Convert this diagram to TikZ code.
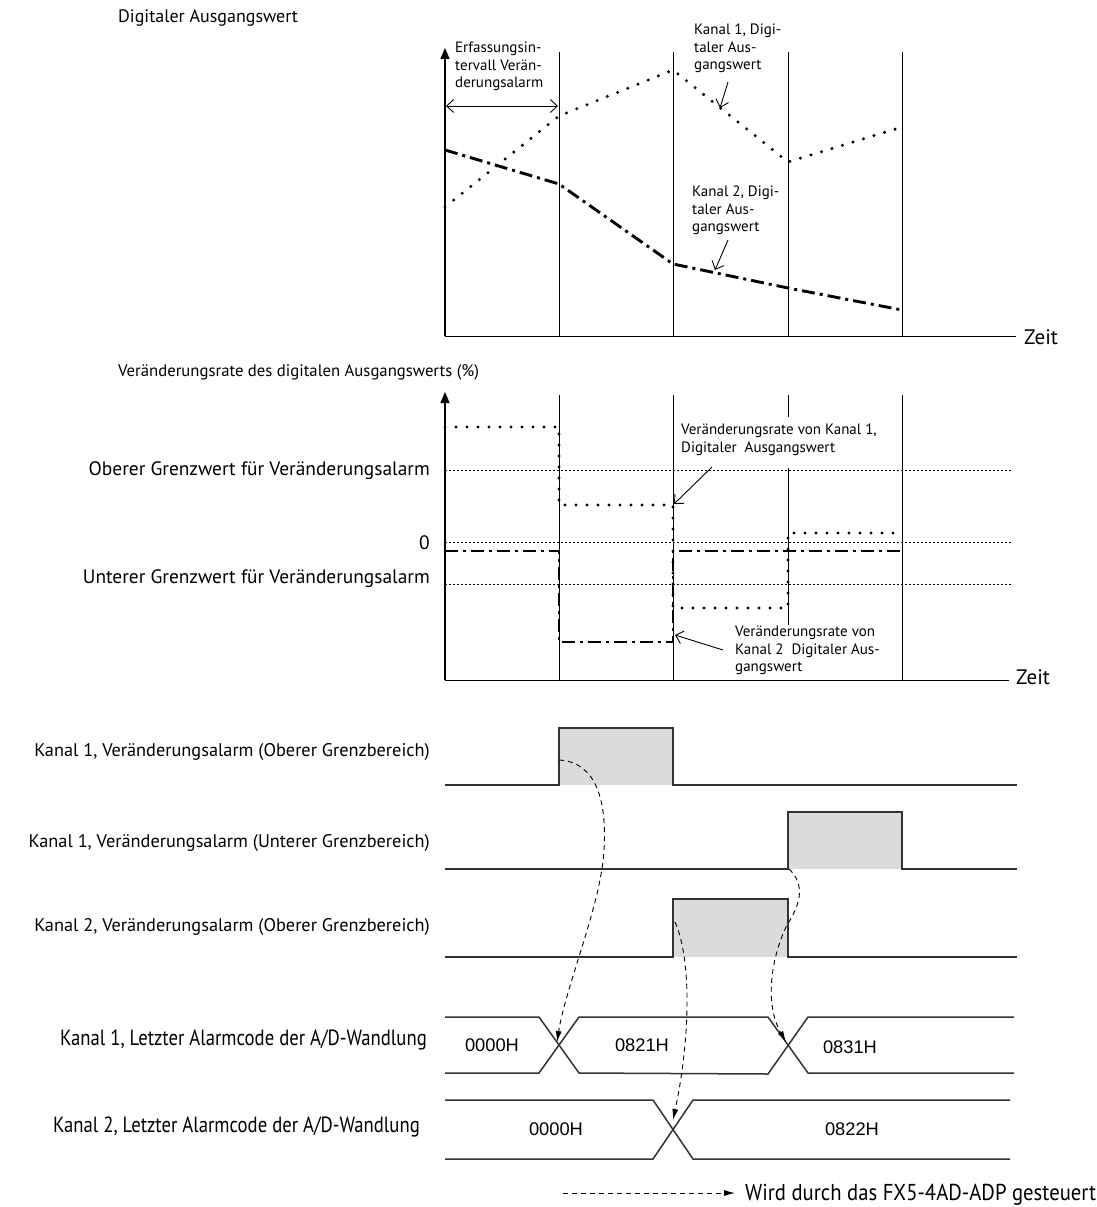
\documentclass[tikz,border=0pt]{standalone}
\usepackage{fontspec}
\setmainfont{PT Sans}
\newfontfamily\narrowfont[FakeStretch=0.85]{PT Sans}
\newfontfamily\legendfont[FakeStretch=0.9]{PT Sans}
\newfontfamily\codefont{Liberation Sans}
\usetikzlibrary{arrows.meta}
\tikzset{>=stealth}
\colorlet{pulseFill}{black!14}
\colorlet{sigColor}{black!80}
\tikzset{
  chone/.style={line width=3.3pt,line cap=round,dash pattern=on 0pt off 11pt},
  chtwo/.style={line width=2.9pt,dash pattern=on 13pt off 5pt on 3pt off 5pt},
  limitline/.style={line width=0.6pt,dash pattern=on 2pt off 2pt},
  gridline/.style={line width=1pt},
  axis/.style={line width=1.2pt,-{Triangle[length=11pt,width=9pt]}},
  sig/.style={line width=1.5pt,sigColor},
  ctrl/.style={line width=0.9pt,dash pattern=on 5pt off 4pt,-{Latex[length=11pt,width=6pt]}},
  pointer/.style={line width=0.9pt,-{Straight Barb[length=7pt,width=13pt]}},
  title/.style={font=\fontsize{18}{21}\selectfont,anchor=west,inner sep=0pt},
  zeit/.style={font=\fontsize{21}{24}\selectfont,anchor=west,inner sep=0pt},
  limitlabel/.style={font=\fontsize{19.4}{22}\selectfont,anchor=east,inner sep=0pt},
  rowlabel/.style={font=\fontsize{18.3}{21}\selectfont,anchor=east,inner sep=0pt},
  codelabel/.style={font=\narrowfont\fontsize{22}{24}\selectfont,anchor=east,inner sep=0pt},
  codeval/.style={font=\codefont\fontsize{18.3}{20}\selectfont,inner sep=0pt},
  note/.style={font=\fontsize{15}{17.5}\selectfont,align=left,anchor=north west,inner sep=0pt},
}

\begin{document}
\begin{tikzpicture}[x=1pt,y=-1pt]
  \useasboundingbox[fill=white] (0,0) rectangle (1097,1207);

  % digital output value
  \node[title] (ttlA) at (118,18) {Digitaler Ausgangswert};
  \draw[axis] (445,336) -- (445,48);
  \draw[gridline] (445,336) -- (1016,336);
  \node[zeit] (zeitA) at (1024,337) {Zeit};
  \foreach \t in {559,673,788,902}
    \draw[gridline] (\t,52) -- (\t,336);

  \draw[chone] (445,207) -- (559,116) -- (673,70) -- (788,162) -- (902,127);
  \draw[chtwo] (445,150) -- (559,184) -- (673,264) -- (788,288) -- (902,310);

  \node[note] (interval) at (455,42) {Erfassungsin-\\tervall Ver\"an-\\derungsalarm};
  \coordinate (intL) at (446,106);
  \coordinate (intR) at (558,106);
  \draw[pointer,{Straight Barb[length=7pt,width=13pt]}-{Straight Barb[length=7pt,width=13pt]}] (intL) -- (intR);

  \node[note] (chA) at (694,24) {Kanal 1, Digi-\\taler Aus-\\gangswert};
  \coordinate (chAtip) at (720,108);
  \draw[pointer] (728,82) -- (chAtip);
  \node[note] (chB) at (692,186) {Kanal 2, Digi-\\taler Aus-\\gangswert};
  \coordinate (chBtip) at (715,270);
  \draw[pointer] (728,240) -- (chBtip);

  % rate of change
  \node[title,font=\fontsize{16.7}{20}\selectfont] (ttlB) at (118,372) {Ver\"anderungsrate des digitalen Ausgangswerts (\%)};
  \draw[axis] (445,680) -- (445,392);
  \draw[gridline] (445,680) -- (1009,680);
  \node[zeit] (zeitB) at (1016,677) {Zeit};
  \foreach \t in {559,673,902}
    \draw[gridline] (\t,395) -- (\t,680);
  \draw[gridline] (788,395) -- (788,417);
  \draw[gridline] (788,468) -- (788,625);

  \draw[limitline] (445,470) -- (1012,470);
  \draw[limitline] (445,542) -- (1012,542);
  \draw[limitline] (445,584) -- (1012,584);
  \node[limitlabel] (upper) at (430,471) {Oberer Grenzwert f\"ur Ver\"anderungsalarm};
  \node[limitlabel] (zero) at (430,543) {0};
  \node[limitlabel] (lower) at (430,579) {Unterer Grenzwert f\"ur Ver\"anderungsalarm};

  \draw[chone] (445,427) -- (559,427) -- (559,505) -- (673,505) -- (673,608)
    -- (788,608) -- (788,533) -- (902,533);
  \draw[chtwo] (445,551) -- (559,551) -- (559,642) -- (673,642) -- (673,551) -- (902,551);

  \node[note] (rateA) at (681,424) {Ver\"anderungsrate von Kanal 1,\\Digitaler\ \ Ausgangswert};
  \coordinate (rateAtip) at (674,504);
  \draw[pointer] (712,467) -- (rateAtip);
  \node[note] (rateB) at (735,626) {Ver\"anderungsrate von\\Kanal 2\ \ Digitaler Aus-\\gangswert};
  \coordinate (rateBtip) at (675,635);
  \draw[pointer] (723,650) -- (rateBtip);

  % alarm signals
  \fill[pulseFill] (559,728) rectangle (673,785);
  \fill[pulseFill] (788,812) rectangle (902,869);
  \fill[pulseFill] (673,899) rectangle (788,957);
  \draw[sig] (445,785) -- (559,785) -- (559,728) -- (673,728) -- (673,785) -- (1017,785);
  \draw[sig] (445,869) -- (788,869) -- (788,812) -- (902,812) -- (902,869) -- (1017,869);
  \draw[sig] (445,957) -- (673,957) -- (673,899) -- (788,899) -- (788,957) -- (1017,957);
  \node[rowlabel] (almA) at (430,752) {Kanal 1, Ver\"anderungsalarm (Oberer Grenzbereich)};
  \node[rowlabel] (almB) at (430,843) {Kanal 1, Ver\"anderungsalarm (Unterer Grenzbereich)};
  \node[rowlabel] (almC) at (430,927) {Kanal 2, Ver\"anderungsalarm (Oberer Grenzbereich)};

  % alarm codes
  \draw[sig] (445,1017) -- (539,1017) -- (579,1073) -- (768,1074) -- (808,1017) -- (1014,1017);
  \draw[sig] (445,1073) -- (539,1073) -- (579,1017) -- (768,1017) -- (808,1073) -- (1014,1073);
  \draw[sig] (445,1100) -- (653,1100) -- (693,1159) -- (1010,1159);
  \draw[sig] (445,1159) -- (653,1159) -- (693,1100) -- (1010,1100);
  \node[codelabel] (codeA) at (427,1040) {Kanal 1, Letzter Alarmcode der A/D-Wandlung};
  \node[codelabel] (codeB) at (420,1127) {Kanal 2, Letzter Alarmcode der A/D-Wandlung};
  \node[codeval] (vA1) at (492,1045) {0000H};
  \node[codeval] (vA2) at (642,1045) {0821H};
  \node[codeval] (vA3) at (850,1047) {0831H};
  \node[codeval] (vB1) at (556,1129) {0000H};
  \node[codeval] (vB2) at (852,1129) {0822H};

  \coordinate (riseA) at (559,760);
  \coordinate (riseB) at (789,869);
  \coordinate (riseC) at (675,922);
  \coordinate (crossA) at (557,1042);
  \coordinate (crossB) at (786,1042);
  \coordinate (crossC) at (673,1120);
  \draw[ctrl] (riseA) .. controls (596,762) and (607,800) .. (604,850)
    .. controls (601,905) and (566,985) .. (crossA);
  \draw[ctrl] (riseB) .. controls (806,885) and (800,905) .. (787,925)
    .. controls (770,960) and (765,1005) .. (crossB);
  \draw[ctrl] (riseC) .. controls (692,960) and (690,1040) .. (crossC);

  % legend
  \coordinate (legS) at (563,1193);
  \node[anchor=west,inner sep=0pt,font=\legendfont\fontsize{23}{25}\selectfont] (legend) at (745,1195) {Wird durch das FX5-4AD-ADP gesteuert};
  \draw[ctrl] (legS) -- ([xshift=-10pt]legend.west |- legS);
\end{tikzpicture}
\end{document}
